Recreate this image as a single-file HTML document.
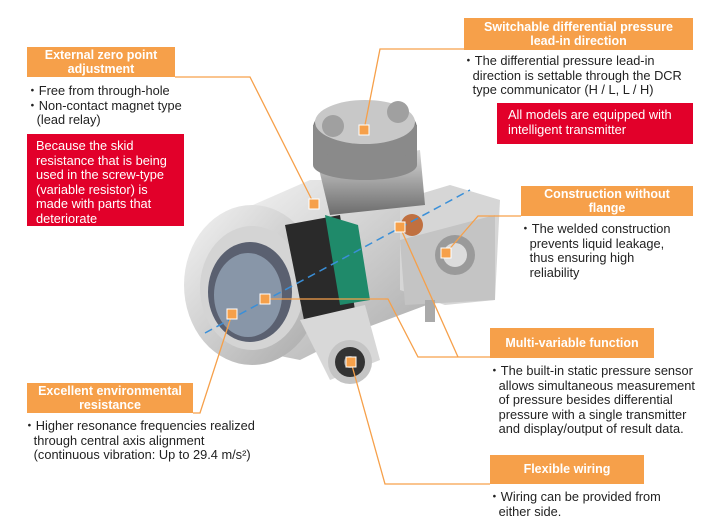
<!DOCTYPE html>
<html><head><meta charset="utf-8"><style>
body{margin:0;width:720px;height:525px;background:#fff;position:relative;overflow:hidden;font-family:"Liberation Sans",sans-serif;}
.h{position:absolute;background:#f6a04a;color:#fff;font-weight:bold;font-size:12.5px;line-height:14.5px;text-align:center;display:flex;align-items:center;justify-content:center;}
.t{position:absolute;font-size:12.8px;line-height:14.5px;color:#222;white-space:nowrap;}
.r{position:absolute;background:#e2002a;color:#fff;font-size:12.8px;line-height:14.5px;padding:5px 9px;box-sizing:border-box;}
svg{position:absolute;left:0;top:0}
</style></head><body>
<svg width="720" height="525">
<defs>
<linearGradient id="g1" x1="0" y1="0" x2="1" y2="1"><stop offset="0" stop-color="#f4f4f4"/><stop offset="1" stop-color="#a8a8a8"/></linearGradient>
<linearGradient id="g2" x1="0" y1="0" x2="0" y2="1"><stop offset="0" stop-color="#d8d8d8"/><stop offset="1" stop-color="#6c6c6c"/></linearGradient>
</defs>
<!-- main cylinder body -->
<polygon points="230,215 310,180 390,180 440,220 440,300 360,330 300,360 250,350" fill="url(#g1)"/>
<!-- right block -->
<polygon points="400,200 450,185 500,200 495,300 445,305 400,290" fill="#d6d6d6"/>
<polygon points="400,240 495,215 495,300 405,305" fill="#c4c4c4"/>
<circle cx="455" cy="255" r="20" fill="#9a9a9a"/><circle cx="455" cy="255" r="12" fill="#dcdcdc"/>
<!-- top cap block -->
<polygon points="318,165 420,150 425,205 330,215" fill="url(#g2)"/>
<ellipse cx="365" cy="128" rx="52" ry="26" fill="#7c7c7c"/>
<rect x="313" y="125" width="104" height="40" fill="#8a8a8a"/>
<ellipse cx="365" cy="165" rx="52" ry="15" fill="#8a8a8a"/>
<ellipse cx="365" cy="122" rx="50" ry="22" fill="#c8c8c8"/>
<circle cx="333" cy="126" r="11" fill="#a0a0a0"/><circle cx="398" cy="112" r="11" fill="#a0a0a0"/>
<!-- left housing -->
<ellipse cx="252" cy="285" rx="68" ry="80" fill="url(#g1)"/>
<ellipse cx="252" cy="288" rx="52" ry="62" fill="#d4d4d4"/>
<ellipse cx="250" cy="292" rx="42" ry="50" fill="#5a6070"/>
<ellipse cx="248" cy="295" rx="34" ry="42" fill="#8896a8"/>
<polygon points="285,225 340,215 355,310 305,325" fill="#2a2a2a"/>
<polygon points="325,215 358,225 370,300 340,305" fill="#1f8a6a"/>
<circle cx="412" cy="225" r="11" fill="#c07040"/>
<!-- wiring port -->
<polygon points="300,320 365,305 380,360 330,380" fill="#d8d8d8"/>
<circle cx="350" cy="362" r="22" fill="#c4c4c4"/><circle cx="350" cy="362" r="15" fill="#333"/><circle cx="350" cy="362" r="6" fill="#888"/>
<rect x="425" y="300" width="10" height="22" fill="#aaa"/>
<line x1="205" y1="333" x2="470" y2="190" stroke="#3a8fd8" stroke-width="1.5" stroke-dasharray="8,5"/>
<g stroke="#f6a04a" stroke-width="1.3" fill="none">
<polyline points="175,77 250,77 314,204"/>
<polyline points="464,49 380,49 364,130"/>
<polyline points="521,216 478,216 446,253"/>
<polyline points="265,299 388,299 418,357 490,357"/>
<polyline points="400,227 458,357"/>
<polyline points="490,484 385,484 351,362"/>
<polyline points="193,413 200,413 232,314"/>
</g>
<g fill="#f6a04a" stroke="#fff" stroke-width="1">
<rect x="309" y="199" width="10" height="10"/><rect x="359" y="125" width="10" height="10"/>
<rect x="441" y="248" width="10" height="10"/><rect x="260" y="294" width="10" height="10"/>
<rect x="395" y="222" width="10" height="10"/><rect x="346" y="357" width="10" height="10"/>
<rect x="227" y="309" width="10" height="10"/>
</g>
</svg>
<div class="h" style="left:27px;top:47px;width:148px;height:30px">External zero point<br>adjustment</div>
<div class="t" style="left:26px;top:84px">・Free from through-hole<br>・Non-contact magnet type<br>&nbsp;&nbsp;&nbsp;(lead relay)</div>
<div class="r" style="left:27px;top:134px;width:157px;height:92px;padding-left:9px">Because the skid resistance that is being used in the screw-type (variable resistor) is made with parts that deteriorate</div>
<div class="h" style="left:464px;top:18px;width:229px;height:32px">Switchable differential pressure<br>lead-in direction</div>
<div class="t" style="left:462px;top:54px">・The differential pressure lead-in<br>&nbsp;&nbsp;&nbsp;direction is settable through the DCR<br>&nbsp;&nbsp;&nbsp;type communicator (H / L, L / H)</div>
<div class="r" style="left:497px;top:103px;width:196px;height:41px;padding-left:11px">All models are equipped with intelligent transmitter</div>
<div class="h" style="left:521px;top:186px;width:172px;height:30px">Construction without<br>flange</div>
<div class="t" style="left:519px;top:222px">・The welded construction<br>&nbsp;&nbsp;&nbsp;prevents liquid leakage,<br>&nbsp;&nbsp;&nbsp;thus ensuring high<br>&nbsp;&nbsp;&nbsp;reliability</div>
<div class="h" style="left:490px;top:328px;width:164px;height:30px">Multi-variable function</div>
<div class="t" style="left:488px;top:364px">・The built-in static pressure sensor<br>&nbsp;&nbsp;&nbsp;allows simultaneous measurement<br>&nbsp;&nbsp;&nbsp;of pressure besides differential<br>&nbsp;&nbsp;&nbsp;pressure with a single transmitter<br>&nbsp;&nbsp;&nbsp;and display/output of result data.</div>
<div class="h" style="left:490px;top:455px;width:154px;height:29px">Flexible wiring</div>
<div class="t" style="left:488px;top:490px">・Wiring can be provided from<br>&nbsp;&nbsp;&nbsp;either side.</div>
<div class="h" style="left:27px;top:383px;width:166px;height:30px">Excellent environmental<br>resistance</div>
<div class="t" style="left:23px;top:419px">・Higher resonance frequencies realized<br>&nbsp;&nbsp;&nbsp;through central axis alignment<br>&nbsp;&nbsp;&nbsp;(continuous vibration: Up to 29.4 m/s²)</div>
</body></html>
